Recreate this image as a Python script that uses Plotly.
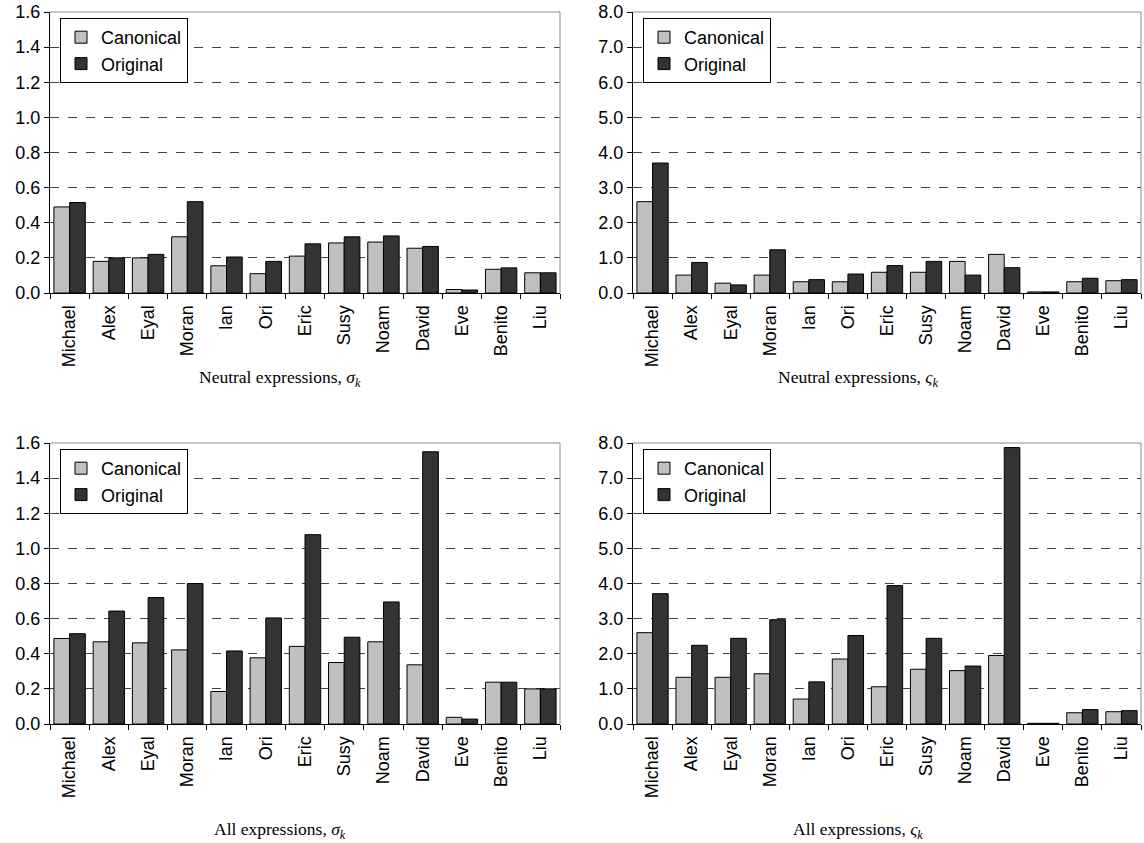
import plotly.graph_objects as go

# Subjects along the x axis
names = ["Michael", "Alex", "Eyal", "Moran", "Ian", "Ori", "Eric",
         "Susy", "Noam", "David", "Eve", "Benito", "Liu"]

# Neutral expressions, sigma_k
neutral_sigma_canonical = [0.49, 0.18, 0.20, 0.32, 0.155, 0.11, 0.21, 0.285, 0.29, 0.255, 0.02, 0.135, 0.115]
neutral_sigma_original = [0.515, 0.20, 0.22, 0.52, 0.205, 0.18, 0.28, 0.32, 0.325, 0.265, 0.017, 0.143, 0.115]

# Neutral expressions, varsigma_k
neutral_vsigma_canonical = [2.60, 0.51, 0.28, 0.51, 0.32, 0.32, 0.59, 0.59, 0.90, 1.10, 0.03, 0.32, 0.35]
neutral_vsigma_original = [3.70, 0.87, 0.23, 1.23, 0.38, 0.54, 0.78, 0.90, 0.51, 0.72, 0.03, 0.42, 0.38]

# All expressions, sigma_k
all_sigma_canonical = [0.487, 0.468, 0.462, 0.422, 0.185, 0.377, 0.442, 0.35, 0.468, 0.337, 0.038, 0.238, 0.2]
all_sigma_original = [0.514, 0.643, 0.72, 0.80, 0.416, 0.604, 1.078, 0.494, 0.695, 1.55, 0.028, 0.238, 0.2]

# All expressions, varsigma_k
all_vsigma_canonical = [2.60, 1.33, 1.33, 1.43, 0.71, 1.85, 1.06, 1.56, 1.52, 1.95, 0.02, 0.32, 0.35]
all_vsigma_original = [3.71, 2.24, 2.44, 2.97, 1.20, 2.52, 3.94, 2.44, 1.65, 7.87, 0.02, 0.41, 0.38]

series_names = ["Canonical", "Original"]
captions = [
    "Neutral expressions, <i>σ</i><sub><i>k</i></sub>",
    "Neutral expressions, <i>ς</i><sub><i>k</i></sub>",
    "All expressions, <i>σ</i><sub><i>k</i></sub>",
    "All expressions, <i>ς</i><sub><i>k</i></sub>",
]

W, H = 1144, 843
SANS = "Liberation Sans, Arial, sans-serif"
SERIF = "Liberation Serif, Times New Roman, serif"
LIGHT, DARK = "#c0c0c0", "#333333"

# Plot-area boxes in pixels: (left, top, right, bottom)
boxes = [
    (50, 12, 560, 293),
    (633, 12, 1141, 293),
    (50, 443, 560, 724),
    (633, 443, 1141, 724),
]
panels = [
    (neutral_sigma_canonical, neutral_sigma_original, [0, 1.6], 0.2),
    (neutral_vsigma_canonical, neutral_vsigma_original, [0, 8.0], 1.0),
    (all_sigma_canonical, all_sigma_original, [0, 1.6], 0.2),
    (all_vsigma_canonical, all_vsigma_original, [0, 8.0], 1.0),
]
caption_y = [378, 378, 830, 830]


def px_x(v):
    return v / W


def px_y(v):
    return 1 - v / H


fig = go.Figure()
layout = dict(
    width=W, height=H,
    margin=dict(l=0, r=0, t=0, b=0, autoexpand=False),
    paper_bgcolor="white", plot_bgcolor="white",
    barmode="group", bargap=0.2, bargroupgap=0.0,
    font=dict(family=SANS, size=18, color="black"),
    shapes=[], annotations=[],
)

for i, ((canon, orig, yrange, dtick), (l, t, r, b)) in enumerate(zip(panels, boxes)):
    n = "" if i == 0 else str(i + 1)
    leg = "legend" if i == 0 else f"legend{i + 1}"
    for vals, color, name in ((canon, LIGHT, series_names[0]), (orig, DARK, series_names[1])):
        fig.add_trace(go.Bar(
            x=names, y=vals, name=name,
            marker=dict(color=color, line=dict(color="black", width=1)),
            xaxis=f"x{n}", yaxis=f"y{n}", legend=leg,
        ))
    layout[f"xaxis{n}"] = dict(
        domain=[px_x(l), px_x(r)], anchor=f"y{n}", automargin=False,
        type="category", showgrid=False, zeroline=False,
        showline=True, linecolor="black", linewidth=1,
        ticks="outside", tickson="boundaries", ticklen=5, tickcolor="black",
        ticklabelstandoff=4,
        tickangle=-90, tickfont=dict(family=SANS, size=18, color="black"),
    )
    layout[f"yaxis{n}"] = dict(
        domain=[px_y(b), px_y(t)], anchor=f"x{n}", automargin=False,
        range=yrange, dtick=dtick, tick0=0, tickformat=".1f",
        showgrid=True, gridcolor="#444444", griddash="dash", gridwidth=1,
        zeroline=False, showline=True, linecolor="black", linewidth=1,
        ticks="outside", ticklen=5, tickcolor="black",
        tickfont=dict(family=SANS, size=18, color="black"),
    )
    layout[leg] = dict(
        x=px_x(l + 10), y=px_y(t + 6), xanchor="left", yanchor="top",
        bgcolor="white", bordercolor="black", borderwidth=1,
        font=dict(family=SANS, size=18, color="black"),
        tracegroupgap=0, itemwidth=30,
    )
    # light frame along the top and right of each plot area
    layout["shapes"].append(dict(type="line", xref="paper", yref="paper",
                                 x0=px_x(l), x1=px_x(r), y0=px_y(t), y1=px_y(t),
                                 line=dict(color="#8c8c8c", width=1), layer="above"))
    layout["shapes"].append(dict(type="line", xref="paper", yref="paper",
                                 x0=px_x(r), x1=px_x(r), y0=px_y(b), y1=px_y(t),
                                 line=dict(color="#8c8c8c", width=1), layer="above"))
    cx = 280 if i % 2 == 0 else 858
    layout["annotations"].append(dict(
        text=captions[i], xref="paper", yref="paper",
        x=px_x(cx), y=px_y(caption_y[i]), xanchor="center", yanchor="middle",
        showarrow=False, font=dict(family=SERIF, size=17.5, color="black"),
    ))

fig.update_layout(**layout)
fig.write_html("out.html")
